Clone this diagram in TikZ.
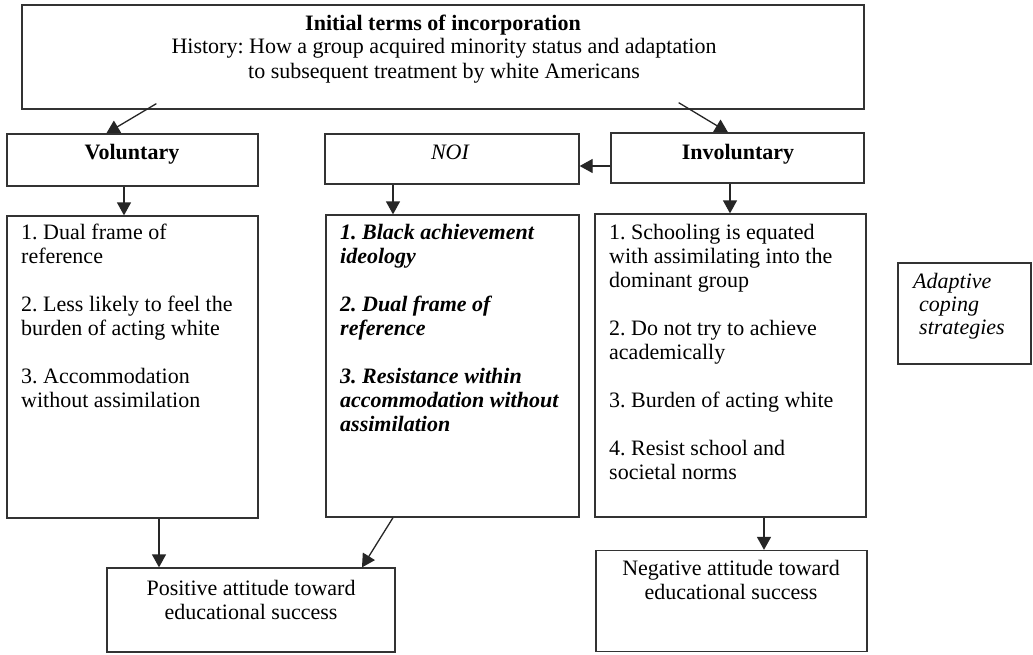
\documentclass[tikz,border=0pt]{standalone}
\usepackage{fontspec}
\setmainfont{Liberation Serif}
\usetikzlibrary{arrows.meta}
\frenchspacing
\begin{document}
\begin{tikzpicture}[x=1pt,y=-1pt,
  bx/.style n args={2}{draw=black!80,line width=1.3pt,inner sep=0pt,minimum width=#1,minimum height=#2},
  txt/.style={inner sep=0pt,text=black,font=\fontsize{22}{24}\selectfont},
  arr/.style={draw=black!85,line width=1.3pt,-{Triangle[width=14pt,length=13pt]}}]
\useasboundingbox[fill=white] (0,0) rectangle (1033,654);
% boxes
\node[bx={842}{104}] (top) at (443,57) {};
\node[bx={251}{52}] (vol) at (132.5,160) {};
\node[bx={254}{50}] (noi) at (452,159) {};
\node[bx={253}{50}] (inv) at (737.5,158) {};
\node[bx={251}{302}] (vlist) at (132.5,367) {};
\node[bx={253}{302}] (nlist) at (452.5,366) {};
\node[bx={271}{303}] (ilist) at (730.5,365.5) {};
\node[bx={133}{101}] (adapt) at (964.5,313.5) {};
\node[bx={288}{84}] (pos) at (251,610) {};
\node[bx={271}{101}] (neg) at (731.5,601) {};
% texts
\node[txt,anchor=base,font=\fontsize{22}{24}\selectfont\bfseries] (title) at (443,30) {Initial terms of incorporation};
\node[txt,anchor=north,align=center,font=\fontsize{22}{25}\selectfont] (hist) at (444,38) {History: How a group acquired minority status and adaptation\\to subsequent treatment by white Americans};
\node[txt,anchor=base,font=\fontsize{22}{24}\selectfont\bfseries] (volt) at (132,159) {Voluntary};
\node[txt,anchor=base,font=\fontsize{22}{24}\selectfont\itshape] (noit) at (450,159) {NOI};
\node[txt,anchor=base,font=\fontsize{22}{24}\selectfont\bfseries] (invt) at (738,159) {Involuntary};
\node[txt,anchor=north west,align=left] (vlt) at (21,224) {1. Dual frame of\\reference\\[24pt]2. Less likely to feel the\\burden of acting white\\[24pt]3. Accommodation\\without assimilation};
\node[txt,anchor=north west,align=left,font=\fontsize{22}{24}\selectfont\bfseries\itshape] (nlt) at (340,224) {1. Black achievement\\ideology\\[24pt]2. Dual frame of\\reference\\[24pt]3. Resistance within\\accommodation without\\assimilation};
\node[txt,anchor=north west,align=left] (ilt) at (609,224) {1. Schooling is equated\\with assimilating into the\\dominant group\\[24pt]2. Do not try to achieve\\academically\\[24pt]3. Burden of acting white\\[24pt]4. Resist school and\\societal norms};
\node[txt,anchor=north west,align=left,font=\fontsize{22}{23}\selectfont\itshape] (adt) at (913,273) {Adaptive\\\hspace*{6pt}coping\\\hspace*{6pt}strategies};
\node[txt,anchor=north,align=center] (post) at (251,580) {Positive attitude toward\\educational success};
\node[txt,anchor=north,align=center] (negt) at (731,560) {Negative attitude toward\\educational success};
% arrows
\draw[arr] ([xshift=135pt,yshift=6pt]top.south west) -- ([xshift=100pt]vol.north west);
\draw[arr] ([xshift=-186pt,yshift=7pt]top.south east) -- ([xshift=-9.5pt]inv.north);
\draw[arr] ([yshift=-8pt]inv.west) -- ([yshift=-7pt]noi.east);
\draw[arr] ([xshift=-8.5pt]vol.south) -- ([xshift=-8.5pt]vlist.north);
\draw[arr] ([xshift=-59pt]noi.south) -- ([xshift=-59.5pt]nlist.north);
\draw[arr] ([xshift=-7.5pt]inv.south) -- ([xshift=-0.5pt]ilist.north);
\draw[arr] ([xshift=26.5pt]vlist.south) -- ([xshift=-92pt]pos.north);
\draw[arr] ([xshift=-59.5pt]nlist.south) -- ([xshift=111pt]pos.north);
\draw[arr] ([xshift=33.5pt]ilist.south) -- ([xshift=32.5pt]neg.north);
\end{tikzpicture}
\end{document}
